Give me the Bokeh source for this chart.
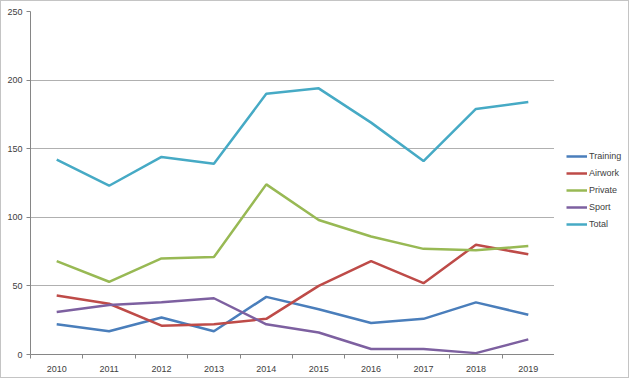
from bokeh.plotting import figure
from bokeh.models import Legend, LegendItem, FixedTicker, Range1d
from bokeh.layouts import row, column
from bokeh.embed import file_html
from bokeh.resources import INLINE

years = ["2010", "2011", "2012", "2013", "2014", "2015", "2016", "2017", "2018", "2019"]
training = [22, 17, 27, 17, 42, 33, 23, 26, 38, 29]
airwork = [43, 37, 21, 22, 26, 50, 68, 52, 80, 73]
private = [68, 53, 70, 71, 124, 98, 86, 77, 76, 79]
sport = [31, 36, 38, 41, 22, 16, 4, 4, 1, 11]
total = [142, 123, 144, 139, 190, 194, 169, 141, 179, 184]
y_ticks = [0, 50, 100, 150, 200, 250]

series = [
    ("Training", training, "#4a7ebb"),
    ("Airwork", airwork, "#be4b48"),
    ("Private", private, "#98b954"),
    ("Sport", sport, "#7d60a0"),
    ("Total", total, "#46aac5"),
]

xs = [i + 0.5 for i in range(len(years))]

p = figure(width=553, height=376, output_backend="svg", toolbar_location=None,
           x_range=Range1d(0, len(years)), y_range=Range1d(0, 250),
           min_border_left=29, min_border_right=0, min_border_top=10, min_border_bottom=23)
p.outline_line_color = None
p.background_fill_color = "white"
p.border_fill_color = "white"

for name, vals, col in series:
    p.line(xs, vals, line_color=col, line_width=2.5)

# x axis
p.xaxis.ticker = FixedTicker(ticks=xs, minor_ticks=list(range(len(years) + 1)))
p.xaxis.major_label_overrides = {x: y for x, y in zip(xs, years)}
p.xaxis.major_tick_line_color = None
p.xaxis.minor_tick_line_color = "#868686"
p.xaxis.minor_tick_out = 4
p.xaxis.minor_tick_in = 0
p.xaxis.axis_line_color = "#868686"
p.xaxis.major_label_text_font = "Liberation Sans"
p.xaxis.major_label_text_font_size = "9px"
p.xaxis.major_label_text_color = "#404040"
p.xaxis.major_label_standoff = 5

# y axis
p.yaxis.ticker = FixedTicker(ticks=y_ticks)
p.yaxis.axis_line_color = "#868686"
p.yaxis.major_tick_line_color = "#868686"
p.yaxis.major_tick_out = 4
p.yaxis.major_tick_in = 0
p.yaxis.minor_tick_line_color = None
p.yaxis.major_label_text_font = "Liberation Sans"
p.yaxis.major_label_text_font_size = "9px"
p.yaxis.major_label_text_color = "#404040"
p.yaxis.major_label_standoff = 4

p.xgrid.grid_line_color = None
p.ygrid.grid_line_color = "#b0b0b0"
p.ygrid.grid_line_width = 1

# legend panel
p2 = figure(width=74, height=376, output_backend="svg", toolbar_location=None,
            x_range=Range1d(0, 1), y_range=Range1d(0, 1),
            x_axis_location=None, y_axis_location=None,
            min_border_left=0, min_border_right=0, min_border_top=0, min_border_bottom=0)
p2.outline_line_color = None
p2.grid.grid_line_color = None
p2.background_fill_color = "white"
p2.border_fill_color = "white"

items = []
for name, vals, col in series:
    r = p2.line(xs, vals, line_color=col, line_width=2.5, visible=False)
    items.append(LegendItem(label=name, renderers=[r]))

legend = Legend(items=items, location=(12, 124), orientation="vertical",
                glyph_width=21, glyph_height=12, label_height=12, spacing=5,
                label_standoff=2, padding=0, margin=0,
                label_text_font="Liberation Sans", label_text_font_size="9px",
                label_text_color="#404040", inactive_fill_alpha=0,
                border_line_color=None, background_fill_alpha=0)
p2.add_layout(legend)

inner = row(p, p2, spacing=0, margin=(1, 1, 1, 1), styles={"background-color": "white"})
layout = column(inner, spacing=0, styles={"background-color": "#c4c4c4"})

open("out.html", "w").write(file_html(layout, INLINE))
